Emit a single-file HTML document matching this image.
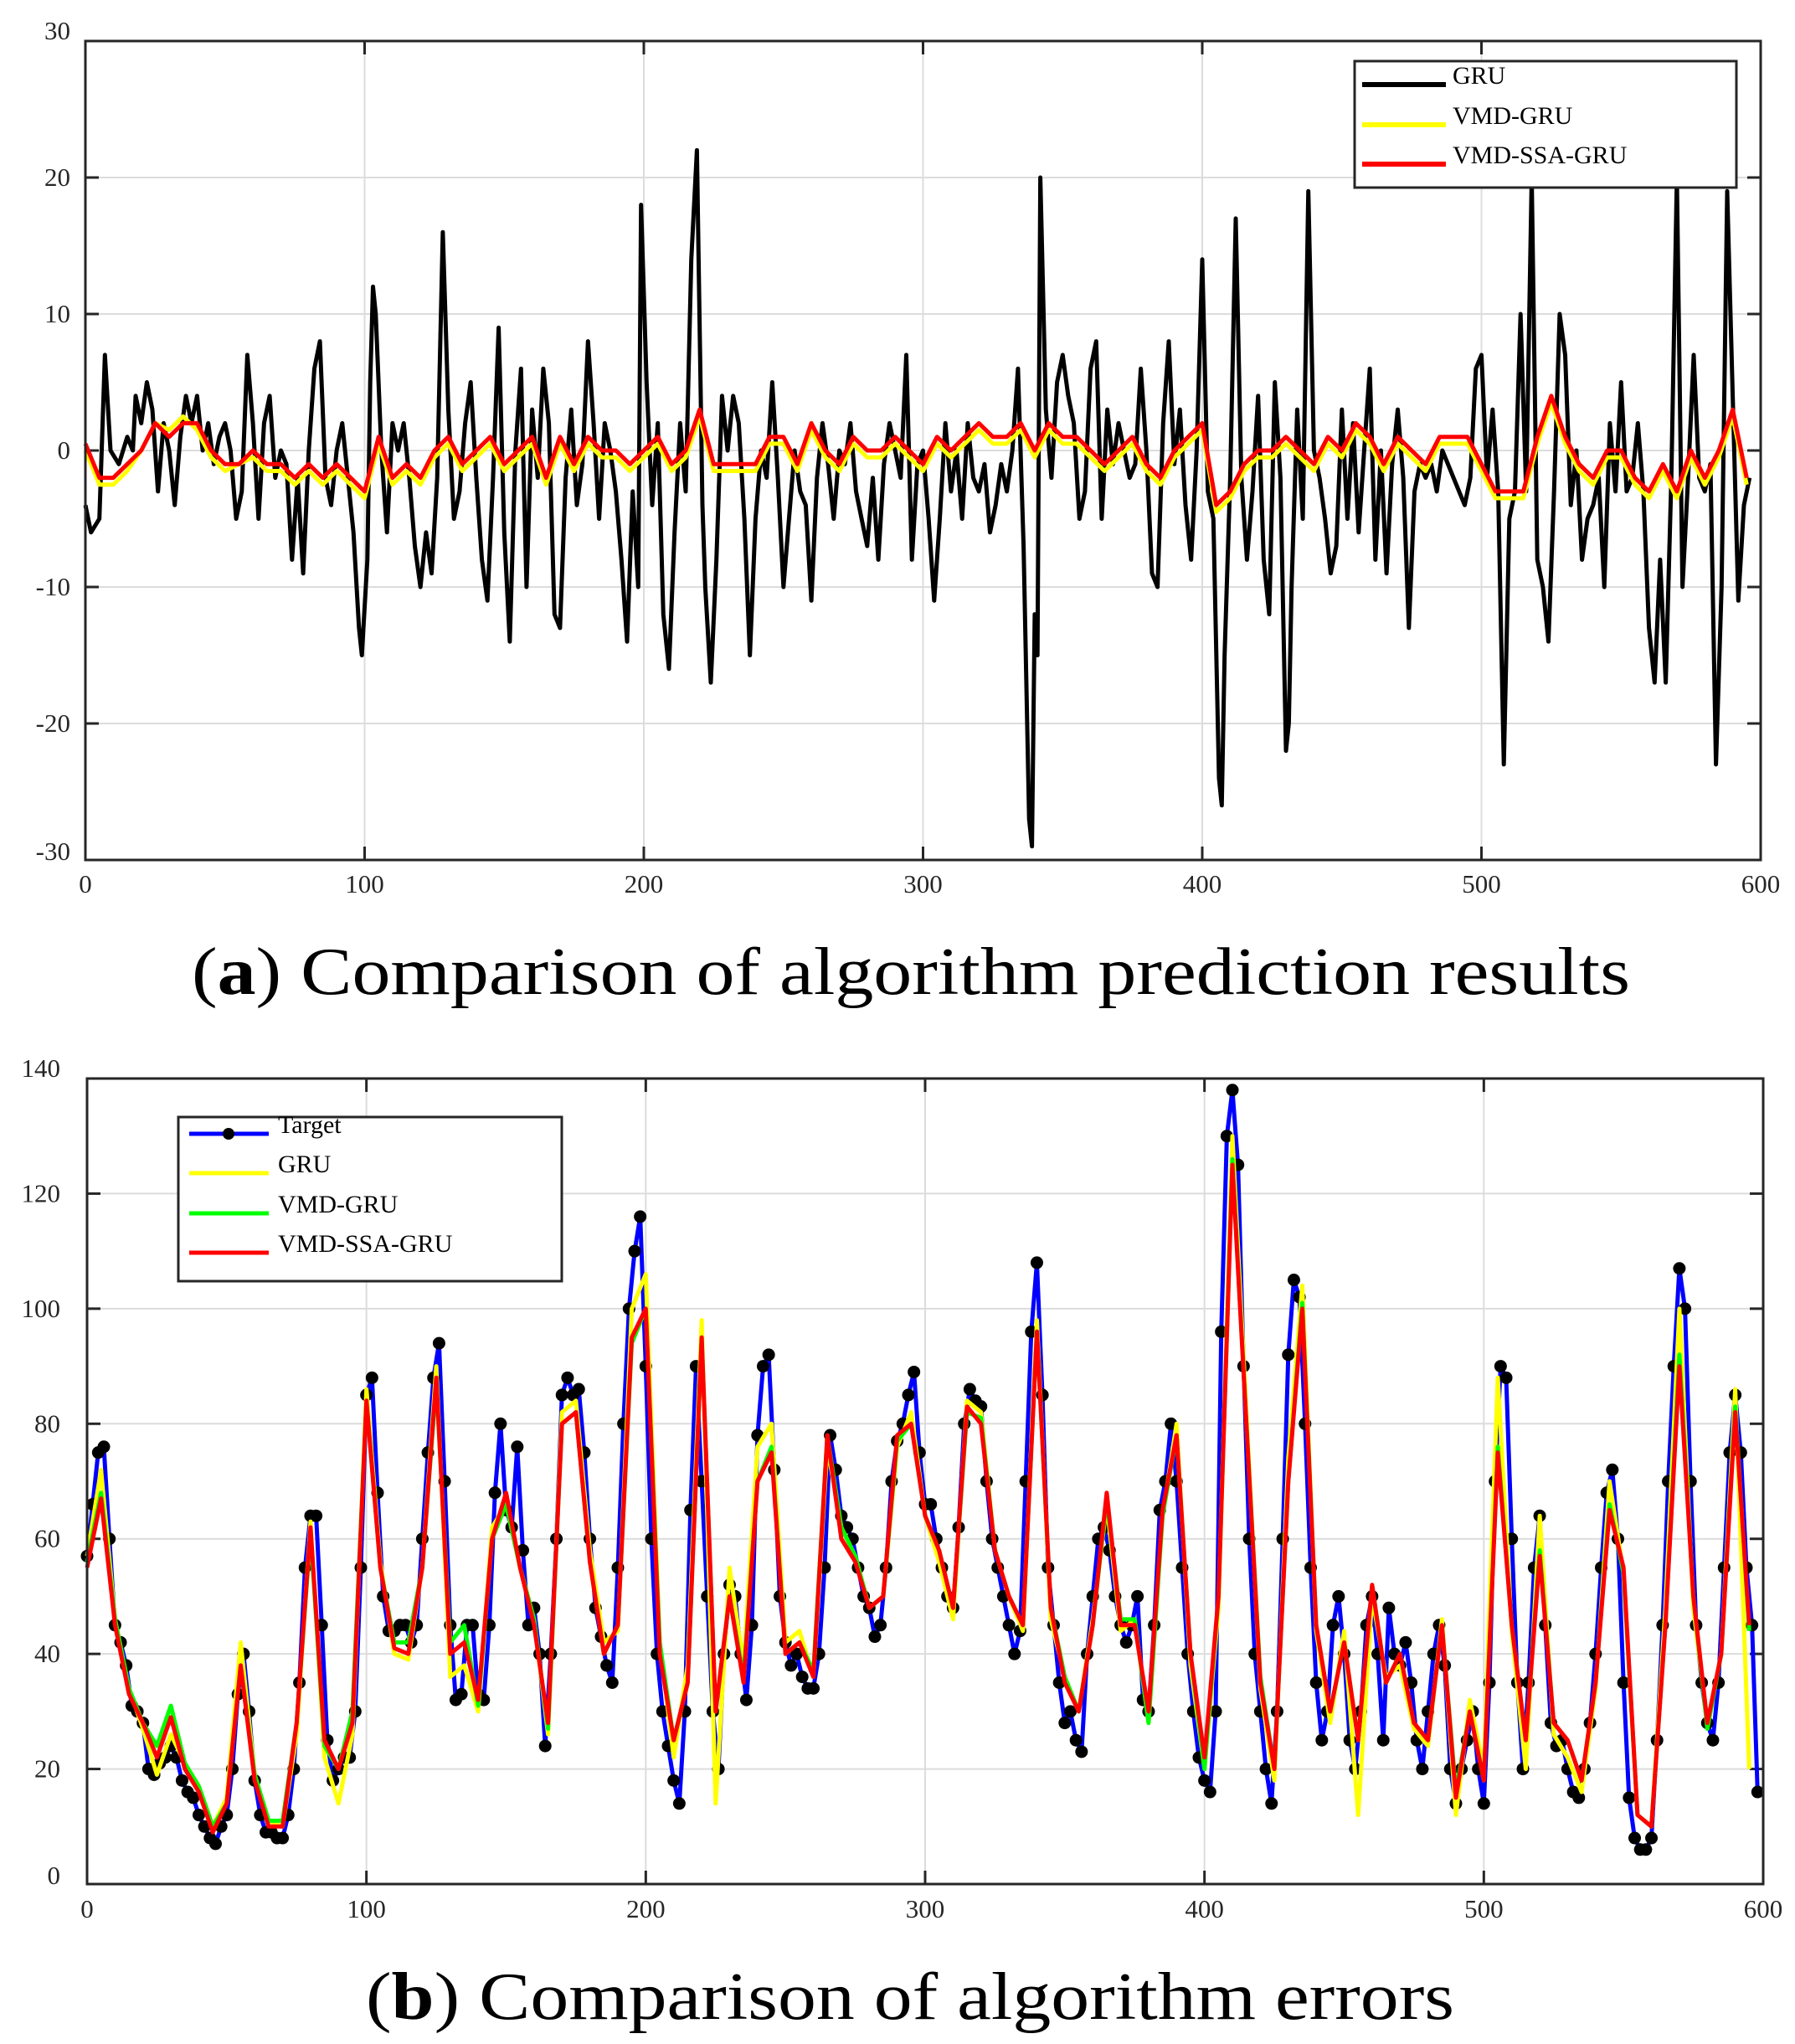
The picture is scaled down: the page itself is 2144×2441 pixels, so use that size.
<!DOCTYPE html>
<html><head><meta charset="utf-8"><style>
html,body{margin:0;padding:0;background:#fff}
svg{display:block}
text{font-family:"Liberation Serif",serif}
</style></head><body>
<svg id="fig" width="2144" height="2441" viewBox="0 0 2144 2441" xmlns="http://www.w3.org/2000/svg">
<g id="chartA"></g>
<text x="1088" y="1187" font-size="80" text-anchor="middle" textLength="1718" lengthAdjust="spacingAndGlyphs">(<tspan font-weight="bold">a</tspan>) Comparison of algorithm prediction results</text>
<g id="chartB"></g>
<text x="1087" y="2411" font-size="80" text-anchor="middle" textLength="1300" lengthAdjust="spacingAndGlyphs">(<tspan font-weight="bold">b</tspan>) Comparison of algorithm errors</text>
</svg>
<script>
// ---- Chart A data ----
const gruX=[0,2,5,7,9,12,15,17,18,20,22,24,26,28,30,32,34,36,38,40,42,44,46,48,50,52,54,56,58,60,62,64,66,68,70,72,74,76,78,80,82,84,86,88,90,92,94,96,98,99,101,102,103,104,106,108,110,112,114,116,118,120,122,124,126,128,130,132,134,136,138,140,142,144,146,148,150,152,154,156,158,160,162,164,166,168,170,172,174,176,178,180,182,184,186,188,190,192,194,196,198,199,201,203,205,207,209,211,213,215,217,219,221,222,224,226,228,230,232,234,236,238,240,242,244,246,248,250,252,254,256,258,260,262,264,266,268,270,272,274,276,278,280,282,284,286,288,290,292,294,296,298,300,302,304,306,308,310,312,314,316,318,320,322,324,326,328,330,332,334,336,338,339,340,341,342,344,346,348,350,352,354,356,358,360,362,364,366,368,370,372,374,376,378,380,382,384,386,388,390,392,394,396,398,400,402,404,406,407,408,410,412,414,416,418,420,422,424,426,428,430,431,432,434,436,438,440,442,444,446,448,450,452,454,456,458,460,462,464,466,468,470,472,474,476,478,480,482,484,486,488,490,492,494,496,498,500,502,504,506,508,510,512,514,516,518,520,522,524,526,528,530,532,534,536,538,540,542,544,546,548,550,552,554,556,558,560,562,564,566,568,570,572,574,576,578,580,582,584,586,588,590,592,594,596];
const gruY=[-4,-6,-5,7,0,-1,1,0,4,2,5,3,-3,2,0,-4,1,4,2,4,0,2,-1,1,2,0,-5,-3,7,2,-5,2,4,-2,0,-1,-8,-2,-9,0,6,8,-2,-4,0,2,-2,-6,-13,-15,-8,5,12,10,0,-6,2,0,2,-2,-7,-10,-6,-9,-2,16,3,-5,-3,2,5,-2,-8,-11,-2,9,-6,-14,0,6,-10,3,-2,6,2,-12,-13,-2,3,-4,-1,8,2,-5,2,0,-3,-8,-14,-3,-10,18,5,-4,2,-12,-16,-6,2,-3,14,22,-4,-10,-17,-8,4,0,4,2,-5,-15,-5,0,-2,5,-2,-10,-5,0,-3,-4,-11,-2,2,-1,-5,0,-1,2,-3,-5,-7,-2,-8,-1,2,0,-2,7,-8,-1,0,-5,-11,-5,2,-3,0,-5,2,-2,-3,-1,-6,-4,-1,-3,0,6,-7,-27,-29,-12,-15,20,3,-2,5,7,4,2,-5,-3,6,8,-5,3,-1,2,0,-2,-1,6,0,-9,-10,2,8,-1,3,-4,-8,0,14,-3,-5,-24,-26,-15,-2,17,-2,-8,-3,4,-8,-12,5,-2,-22,-20,-10,3,-5,19,0,-2,-5,-9,-7,3,-5,2,-6,0,6,-8,0,-9,-1,3,-2,-13,-3,-1,-2,-1,-3,0,-1,-2,-3,-4,-2,6,7,-2,3,-3,-23,-5,-3,10,-3,20,-8,-10,-14,-3,10,7,-4,0,-8,-5,-4,-2,-10,2,-3,5,-3,-2,2,-3,-13,-17,-8,-17,-2,20,-10,-2,7,-2,-3,-1,-23,-10,19,4,-11,-4,-2];
const stepA=5;
const vmdA=[0,-2.5,-2.5,-1.5,0,2,1.5,2.5,1.5,-0.5,-1.5,-1,-0.5,-1.5,-1.5,-2.5,-1.5,-2.5,-1.5,-2.5,-3.5,0.5,-2.5,-1.5,-2.5,-0.5,0.5,-1.5,-0.5,0.5,-1.5,-0.5,0.5,-2.5,0.5,-1.5,0.5,-0.5,-0.5,-1.5,-0.5,0.5,-1.5,-0.5,2.5,-1.5,-1.5,-1.5,-1.5,0.5,0.5,-1.5,1.5,-0.5,-1.5,0.5,-0.5,-0.5,0.5,-0.5,-1.5,0.5,-0.5,0.5,1.5,0.5,0.5,1.5,-0.5,1.5,0.5,0.5,-0.5,-1.5,-0.5,0.5,-1.5,-2.5,-0.5,0.5,1.5,-4.5,-3.5,-1.5,-0.5,-0.5,0.5,-0.5,-1.5,0.5,-0.5,1.5,0.5,-1.5,0.5,-0.5,-1.5,0.5,0.5,0.5,-1.5,-3.5,-3.5,-3.5,0.5,3.5,0.5,-1.5,-2.5,-0.5,-0.5,-2.5,-3.5,-1.5,-3.5,-0.5,-2.5,-0.5,2.5,-2.5];
const ssaA=[0.5,-2,-2,-1,0,2,1,2,2,0,-1,-1,0,-1,-1,-2,-1,-2,-1,-2,-3,1,-2,-1,-2,0,1,-1,0,1,-1,0,1,-2,1,-1,1,0,0,-1,0,1,-1,0,3,-1,-1,-1,-1,1,1,-1,2,0,-1,1,0,0,1,0,-1,1,0,1,2,1,1,2,0,2,1,1,0,-1,0,1,-1,-2,0,1,2,-4,-3,-1,0,0,1,0,-1,1,0,2,1,-1,1,0,-1,1,1,1,-1,-3,-3,-3,1,4,1,-1,-2,0,0,-2,-3,-1,-3,0,-2,0,3,-2];
const yTicksA=[30,20,10,0,-10,-20,-30];
const xTicks=[0,100,200,300,400,500,600];

// ---- Chart B data ----
const stepT=2;
const targetB=[57,66,75,76,60,45,42,38,31,30,28,20,19,21,22,24,22,18,16,15,12,10,8,7,10,12,20,33,40,30,18,12,9,9,8,8,12,20,35,55,64,64,45,25,18,20,22,22,30,55,85,88,68,50,44,44,45,45,42,45,60,75,88,94,70,45,32,33,45,45,33,32,45,68,80,65,62,76,58,45,48,40,24,40,60,85,88,85,86,75,60,48,43,38,35,55,80,100,110,116,90,60,40,30,24,18,14,30,65,90,70,50,30,20,40,52,50,40,32,45,78,90,92,72,50,42,38,40,36,34,34,40,55,78,72,64,62,60,55,50,48,43,45,55,70,77,80,85,89,75,66,66,60,55,50,48,62,80,86,84,83,70,60,55,50,45,40,44,70,96,108,85,55,45,35,28,30,25,23,40,50,60,62,58,50,45,42,45,50,32,30,45,65,70,80,70,55,40,30,22,18,16,30,96,130,138,125,90,60,40,30,20,14,30,60,92,105,102,80,55,35,25,30,45,50,40,25,20,30,45,50,40,25,48,40,38,42,35,25,20,30,40,45,38,20,14,20,25,30,20,14,35,70,90,88,60,35,20,35,55,64,45,28,24,25,20,16,15,20,28,40,55,68,72,60,35,15,8,6,6,8,25,45,70,90,107,100,70,45,35,28,25,35,55,75,85,75,55,45,16];
const stepP=5;
const gruB=[57,72,46,34,27,19,26,21,17,10,15,42,19,11,10,26,63,22,14,26,86,56,40,39,55,90,36,38,30,62,66,55,46,26,82,84,58,42,44,100,106,42,22,38,98,14,55,38,76,80,42,44,36,76,62,57,48,50,76,82,64,56,46,84,82,58,50,44,98,46,36,30,46,66,44,46,28,64,80,38,20,48,130,82,34,18,74,104,44,28,44,12,50,36,38,27,24,46,12,32,20,88,44,20,64,26,22,16,34,70,54,12,10,48,100,48,28,40,86,20];
const vmdB=[56,68,46,34,28,24,31,21,17,10,14,38,19,11,11,28,61,24,20,30,84,55,42,42,55,87,42,45,31,60,66,55,46,27,80,82,56,40,45,94,100,42,25,35,95,30,50,36,70,76,40,42,37,78,62,57,48,50,77,80,64,58,48,82,81,58,50,45,96,48,36,30,45,67,46,46,28,64,78,40,20,50,126,80,36,20,70,101,45,30,42,25,52,35,40,28,25,45,16,30,18,76,45,25,58,28,25,18,35,66,54,12,10,45,92,50,27,40,83,44];
const ssaB=[55,67,45,33,28,22,29,20,16,9,14,38,18,10,10,28,62,25,20,28,84,55,41,40,55,88,40,42,32,60,68,55,45,28,80,82,56,40,45,95,100,40,25,35,95,30,50,35,70,75,40,42,36,78,60,56,48,50,78,80,64,58,48,83,80,58,50,45,96,48,35,30,45,68,45,45,30,65,78,40,22,50,125,80,35,20,70,100,45,30,42,25,52,35,40,28,25,45,15,30,18,75,45,25,57,28,25,18,35,65,55,12,10,45,90,50,28,40,82,45];
const yTicksB=[140,120,100,80,60,40,20,0];

const NS='http://www.w3.org/2000/svg';
function mk(parent,tag,attrs){const e=document.createElementNS(NS,tag);for(const k in attrs)e.setAttribute(k,attrs[k]);parent.appendChild(e);return e;}

function axes(g,L,R,T,B,xs,ys,yTicks,yLblX,xLblY,ymin,ymax){
  xTicks.forEach(v=>{const x=xs(v);if(v>0&&v<600){const l=mk(g,'line',{x1:x,x2:x,y1:T,y2:B,stroke:'#dcdcdc','stroke-width':2});

}});
  yTicks.forEach(v=>{const y=ys(v);if(v>ymin&&v<ymax){const l=mk(g,'line',{x1:L,x2:R,y1:y,y2:y,stroke:'#dcdcdc','stroke-width':2});

}});
  xTicks.forEach(v=>{const x=xs(v);mk(g,'line',{x1:x,x2:x,y1:B,y2:B-16,stroke:'#262626','stroke-width':3});mk(g,'line',{x1:x,x2:x,y1:T,y2:T+16,stroke:'#262626','stroke-width':3});
    const t=mk(g,'text',{x:x,y:xLblY,'font-size':31,fill:'#262626','text-anchor':'middle'});t.textContent=v;

});
  yTicks.forEach(v=>{const y=ys(v);mk(g,'line',{x1:L,x2:L+16,y1:y,y2:y,stroke:'#262626','stroke-width':3});mk(g,'line',{x1:R,x2:R-16,y1:y,y2:y,stroke:'#262626','stroke-width':3});
    const t=mk(g,'text',{x:yLblX,y:y+10-(v===ymax?12:0)+(v===ymin?-10:0),'font-size':31,fill:'#262626','text-anchor':'end'});t.textContent=v;

});
}
function frame(g,L,R,T,B){const r=mk(g,'rect',{x:L,y:T,width:R-L,height:B-T,fill:'none',stroke:'#262626','stroke-width':3});

}
function line(g,xsArr,ysArr,xs,ys,color,w,name){
  const d=ysArr.map((v,i)=>(i?'L':'M')+xs(xsArr[i]).toFixed(1)+','+ys(v).toFixed(1)).join('');
  const p=mk(g,'path',{d:d,fill:'none',stroke:color,'stroke-width':w,'stroke-linejoin':'round'});
  
  
  return p;
}

// ---- Chart A ----
(function(){
  const g=document.getElementById('chartA');
  const L=102,R=2103,T=49,B=1027,ymin=-30,ymax=30;
  const xs=v=>L+(v/600)*(R-L), ys=v=>B-(v-ymin)/(ymax-ymin)*(B-T);
  axes(g,L,R,T,B,xs,ys,yTicksA,84,1066,ymin,ymax);
  line(g,gruX,gruY,xs,ys,'#000',5,'gru-line');
  const ix=vmdA.map((v,i)=>i*stepA);
  line(g,ix,vmdA,xs,ys,'#ffff00',5,'vmd-gru-line');
  line(g,ix,ssaA,xs,ys,'#ff0000',5,'vmd-ssa-gru-line');
  frame(g,L,R,T,B);
  const lg=mk(g,'g',{});
  
  
  mk(lg,'rect',{x:1618,y:73,width:456,height:151,fill:'#fff',stroke:'#262626','stroke-width':3});
  [['GRU','#000',101],['VMD-GRU','#ffff00',149],['VMD-SSA-GRU','#ff0000',196]].forEach(e=>{
    const en=mk(lg,'g',{});
    
    
    mk(en,'line',{x1:1627,x2:1727,y1:e[2],y2:e[2],stroke:e[1],'stroke-width':6});
    const t=mk(en,'text',{x:1735,y:e[2]-1,'font-size':30,fill:'#000'});t.textContent=e[0];
  });
})();

// ---- Chart B ----
(function(){
  const g=document.getElementById('chartB');
  const L=104,R=2106,T=1288,B=2250,ymin=0,ymax=140;
  const xs=v=>L+(v/600)*(R-L), ys=v=>B-(v-ymin)/(ymax-ymin)*(B-T);
  axes(g,L,R,T,B,xs,ys,yTicksB,72,2290,ymin,ymax);
  const it=targetB.map((v,i)=>i*stepT);
  line(g,it,targetB,xs,ys,'#0000ff',5,'target-line');
  targetB.forEach((v,i)=>{const c=mk(g,'circle',{cx:xs(it[i]),cy:ys(v),r:7.5,fill:'#000'});

});
  const ip=gruB.map((v,i)=>i*stepP);
  line(g,ip,gruB,xs,ys,'#ffff00',5,'gru-line');
  line(g,ip,vmdB,xs,ys,'#00ff00',5,'vmd-gru-line');
  line(g,ip,ssaB,xs,ys,'#ff0000',5,'vmd-ssa-gru-line');
  frame(g,L,R,T,B);
  const lg=mk(g,'g',{});
  
  
  mk(lg,'rect',{x:213,y:1334,width:458,height:196,fill:'#fff',stroke:'#262626','stroke-width':3});
  [['Target','#0000ff',1354],['GRU','#ffff00',1401],['VMD-GRU','#00ff00',1449],['VMD-SSA-GRU','#ff0000',1496]].forEach((e,k)=>{
    const en=mk(lg,'g',{});
    
    
    mk(en,'line',{x1:226,x2:321,y1:e[2],y2:e[2],stroke:e[1],'stroke-width':5});
    if(k===0)mk(en,'circle',{cx:273,cy:e[2],r:7,fill:'#000'});
    const t=mk(en,'text',{x:332,y:e[2]-1,'font-size':30,fill:'#000'});t.textContent=e[0];
  });
})();
</script>
</body></html>
